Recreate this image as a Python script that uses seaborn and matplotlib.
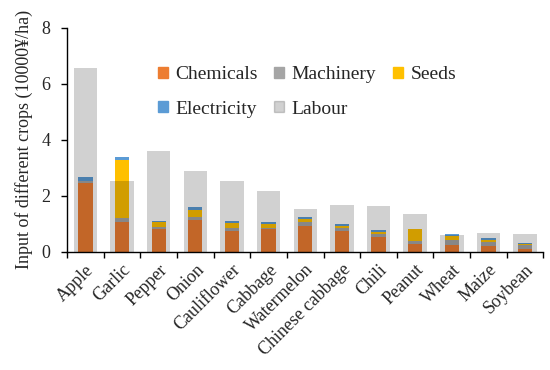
import matplotlib
matplotlib.use('Agg')
import matplotlib.pyplot as plt
import seaborn as sns
import numpy as np
import pandas as pd
from matplotlib.patches import Patch

crops = ['Apple', 'Garlic', 'Pepper', 'Onion', 'Cauliflower', 'Cabbage', 'Watermelon',
         'Chinese cabbage', 'Chili', 'Peanut', 'Wheat', 'Maize', 'Soybean']
chemicals = [2.46, 1.05, 0.80, 1.14, 0.73, 0.79, 0.93, 0.73, 0.53, 0.28, 0.24, 0.20, 0.10]
machinery = [0.06, 0.14, 0.07, 0.08, 0.13, 0.06, 0.12, 0.12, 0.10, 0.11, 0.18, 0.15, 0.12]
seeds = [0.01, 2.07, 0.18, 0.27, 0.15, 0.14, 0.13, 0.07, 0.06, 0.43, 0.13, 0.08, 0.06]
electricity = [0.13, 0.12, 0.06, 0.12, 0.07, 0.06, 0.05, 0.06, 0.07, 0.00, 0.08, 0.04, 0.04]
labour = [6.57, 2.53, 3.61, 2.88, 2.54, 2.18, 1.54, 1.66, 1.64, 1.35, 0.60, 0.67, 0.63]

colors = {'Chemicals': '#ED7D31', 'Machinery': '#A5A5A5', 'Seeds': '#FFC000',
          'Electricity': '#5B9BD5'}

df = pd.DataFrame({'crop': crops, 'Chemicals': chemicals, 'Machinery': machinery,
                   'Seeds': seeds, 'Electricity': electricity, 'Labour': labour})
parts = ['Chemicals', 'Machinery', 'Seeds', 'Electricity']
cum = df[parts].cumsum(axis=1)

sns.set_style('ticks')
plt.rcParams['font.family'] = ['Liberation Serif', 'DejaVu Serif']

fig = plt.figure(figsize=(5.5, 3.7), dpi=100)
ax = fig.add_axes([0.122, 0.32, 0.866, 0.605])

# stacked bars: draw cumulative totals from top layer down
for p in reversed(parts):
    sns.barplot(x=df['crop'], y=cum[p], color=colors[p], width=0.39, order=crops,
                saturation=1, linewidth=0, ax=ax, zorder=2)

# labour as a wide translucent bar on top
sns.barplot(x=df['crop'], y=df['Labour'], color='black', alpha=0.18, width=0.64,
            order=crops, saturation=1, linewidth=0, ax=ax, zorder=3)

ax.set_xlim(-0.5, len(crops) - 0.5)
ax.set_ylim(0, 8)
ax.set_yticks([0, 2, 4, 6, 8])
ax.set_xlabel('')
ax.set_ylabel('Input of different crops (10000¥/ha)', fontsize=13, labelpad=6)
ax.set_xticks(np.arange(len(crops)))
ax.set_xticklabels(crops, rotation=45, ha='right', rotation_mode='anchor')
ax.set_xticks(np.arange(-0.5, len(crops), 1), minor=True)
ax.tick_params(axis='x', which='major', length=0, labelsize=13, pad=7)
ax.tick_params(axis='x', which='minor', length=4, width=1, color='black')
ax.tick_params(axis='y', length=4, width=1, labelsize=13, color='black', pad=8)
for s in ['top', 'right']:
    ax.spines[s].set_visible(False)
for s in ['left', 'bottom']:
    ax.spines[s].set_color('black')
    ax.spines[s].set_linewidth(1)

# legend filled row by row like the original
handles = [Patch(color=colors['Chemicals']), Patch(color=colors['Electricity']),
           Patch(color=colors['Machinery']), Patch(color='black', alpha=0.18),
           Patch(color=colors['Seeds'])]
labels = ['Chemicals', 'Electricity', 'Machinery', 'Labour', 'Seeds']
ax.legend(handles, labels, ncol=3, frameon=False, fontsize=14, loc='upper left',
          bbox_to_anchor=(0.17, 0.872), borderpad=0, handlelength=0.5, handleheight=0.5,
          handletextpad=0.4, columnspacing=0.85, labelspacing=0.9)

fig.savefig('out.png', dpi=100)
